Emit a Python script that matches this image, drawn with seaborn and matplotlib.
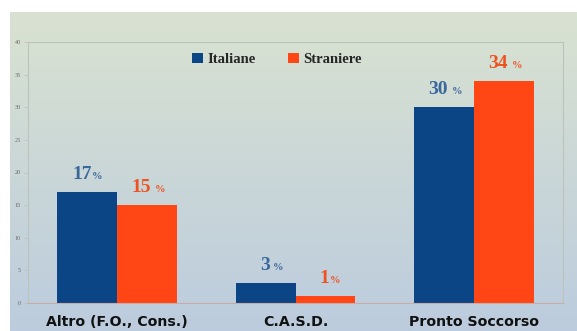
import numpy as np
import pandas as pd
import matplotlib
matplotlib.use("Agg")
import matplotlib.pyplot as plt
from matplotlib.patches import Patch
import seaborn as sns

# Data
categories = ["Altro (F.O., Cons.)", "C.A.S.D.", "Pronto Soccorso"]
groups = ["Italiane", "Straniere"]
italiane = [17, 3, 30]
straniere = [15, 1, 34]
yticks = [0, 5, 10, 15, 20, 25, 30, 35, 40]

bar_colors = ["#0b4585", "#ff4614"]
label_colors = ["#3a679c", "#ee521f"]

df = pd.DataFrame({
    "categoria": categories * 2,
    "gruppo": [groups[0]] * 3 + [groups[1]] * 3,
    "valore": italiane + straniere,
})

sns.set_theme(style="white")
W, H, DPI = 577, 331, 100
fig = plt.figure(figsize=(W / DPI, H / DPI), dpi=DPI, facecolor="white")

# Gradient panel behind the chart
bg = fig.add_axes([10 / W, 0, 1 - 10 / W, 1 - 12 / H])
top = np.array([217, 226, 209]) / 255
bottom = np.array([188, 204, 222]) / 255
t = np.linspace(0, 1, 256)[:, None]
grad = top[None, :] * (1 - t) + bottom[None, :] * t
bg.imshow(grad[:, None, :], aspect="auto", extent=[0, 1, 0, 1])
bg.set_axis_off()

ax = fig.add_axes([28 / W, (H - 303) / H, (563 - 28) / W, (303 - 42) / H])
ax.set_facecolor("none")

sns.barplot(data=df, x="categoria", y="valore", hue="gruppo",
            palette=bar_colors, saturation=1, width=0.67, ax=ax,
            legend=False, errorbar=None, linewidth=0, edgecolor="none")

ax.set_xlim(-0.5, 2.5)
ax.set_ylim(0, 40)
ax.set_yticks(yticks)
ax.set_yticklabels([str(v) for v in yticks], fontsize=4.5, color="#6a6a6a",
                   family="Liberation Serif")
ax.tick_params(axis="y", length=3, width=0.5, color="#b9c0b9", pad=2, left=True)
ax.tick_params(axis="x", length=0, pad=9)
for lbl in ax.get_xticklabels():
    lbl.set_fontsize(10.2)
    lbl.set_fontweight("heavy")
    lbl.set_family("DejaVu Sans")
    lbl.set_color("#111111")
ax.set_xlabel("")
ax.set_ylabel("")

for side in ["left", "top", "right"]:
    ax.spines[side].set_visible(True)
    ax.spines[side].set_color("#bcc3bc")
    ax.spines[side].set_linewidth(0.8)
ax.spines["bottom"].set_color("#c9aaa6")
ax.spines["bottom"].set_linewidth(0.8)

# Value labels: number plus a smaller percent sign
offset = 0.67 / 4
gaps = {(0, 0): 0.5, (1, 0): 2.5, (0, 1): 2.0, (1, 1): 0.5, (0, 2): 2.5, (1, 2): 3.0}
for gi, vals in enumerate([italiane, straniere]):
    for ci, v in enumerate(vals):
        x = ci + (-offset if gi == 0 else offset)
        g = gaps[(gi, ci)]
        ax.annotate(str(v), (x, v), xytext=(3, 9.5), textcoords="offset points",
                    ha="right", va="baseline", fontsize=14, fontweight="bold",
                    family="Liberation Serif", color=label_colors[gi])
        ax.annotate("%", (x, v), xytext=(3 + g, 9.5), textcoords="offset points",
                    ha="left", va="baseline", fontsize=7.5, fontweight="bold",
                    family="Liberation Serif", color=label_colors[gi])

handles = [Patch(facecolor=c, edgecolor="none") for c in bar_colors]
ax.legend(handles, groups, loc="upper center", bbox_to_anchor=(0.465, 1.01),
          ncol=2, frameon=False, handlelength=0.75, handleheight=0.75,
          handletextpad=0.3, columnspacing=2.2,
          prop={"family": "Liberation Serif", "weight": "bold", "size": 10.5})

fig.savefig("out.png", dpi=DPI, facecolor="white")
